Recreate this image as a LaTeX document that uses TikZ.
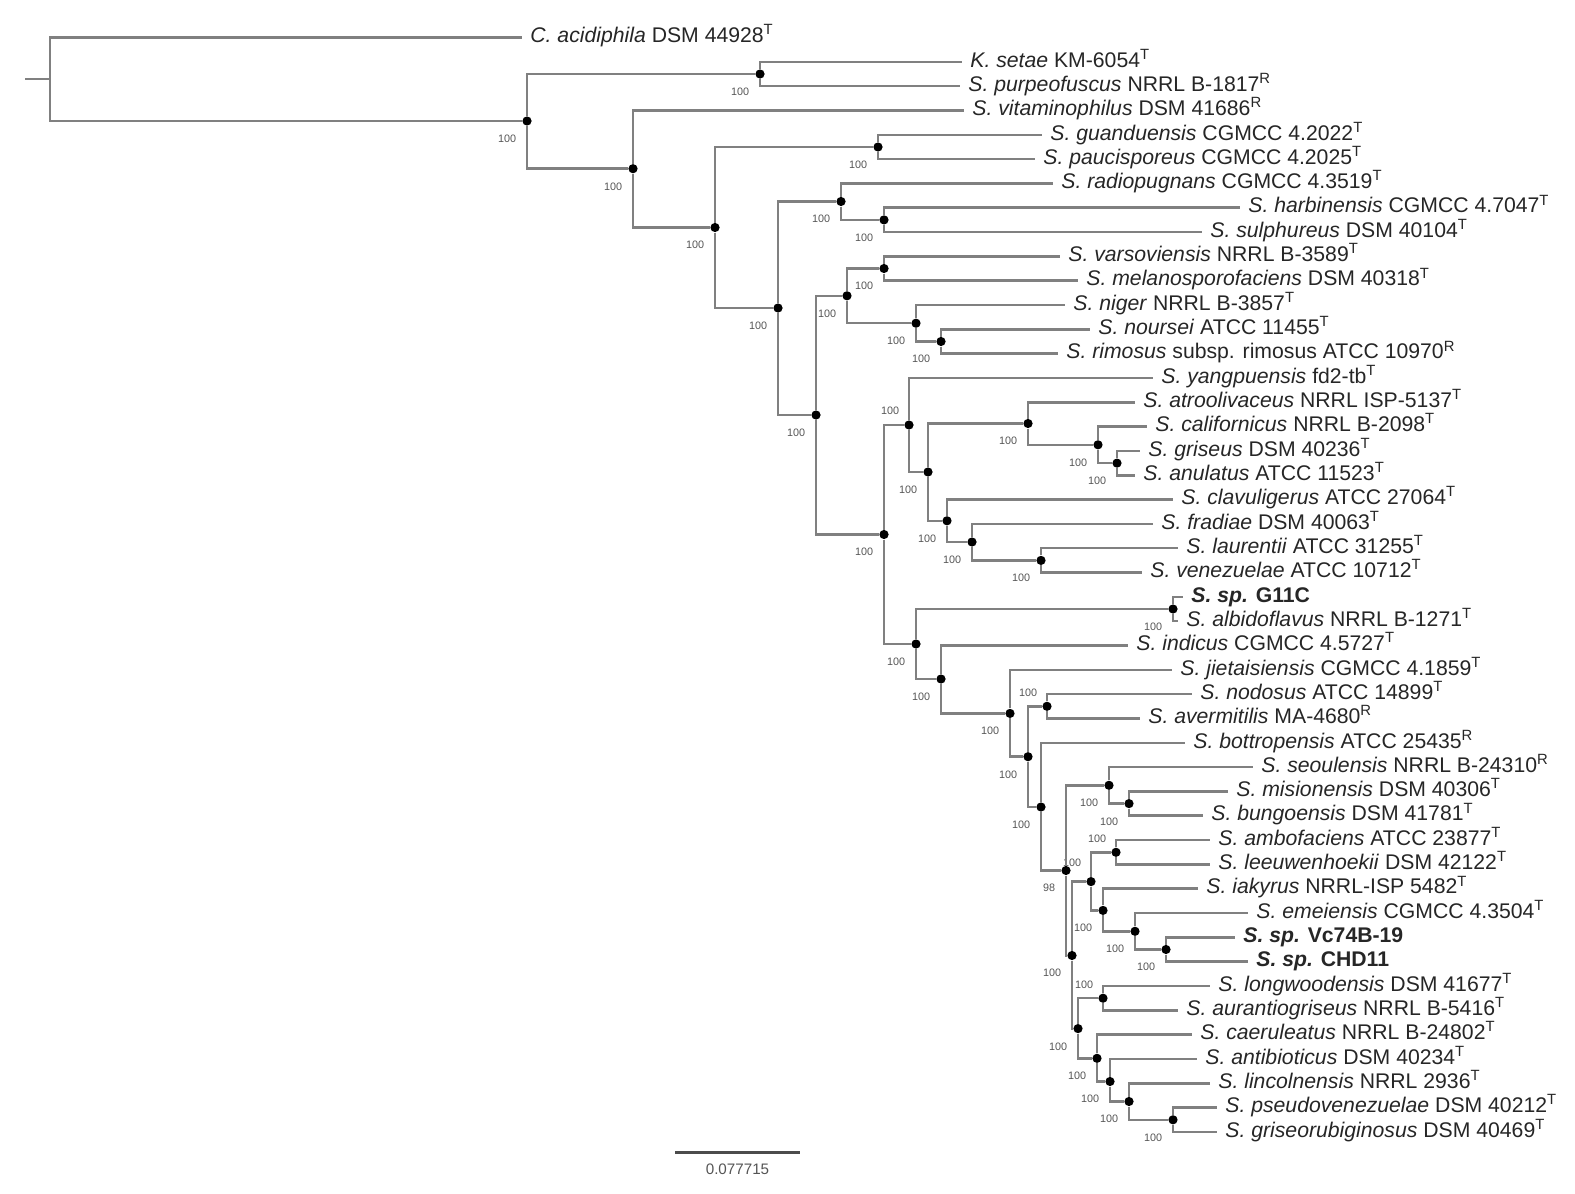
\documentclass[tikz,border=0pt]{standalone}
\usepackage{fontspec}
\setmainfont{Liberation Sans}
\definecolor{branch}{HTML}{808080}
\definecolor{leaftext}{HTML}{262626}
\definecolor{bootgray}{HTML}{555555}
\newcommand{\leaffont}{\fontsize{10.6}{12}\selectfont}
\newcommand{\bootfont}{\fontsize{5.4}{6}\selectfont}
\newcommand{\typeT}{\textsuperscript{T}}
\newcommand{\refR}{\textsuperscript{R}}
\tikzstyle{branchline} = [draw=branch, line width=1.25pt]
\tikzstyle{nodedot} = [circle, fill=black, inner sep=0pt, minimum size=4.6pt]
\tikzstyle{leaf} = [anchor=mid west, inner xsep=4pt, inner ysep=0pt,
text=leaftext, font=\leaffont]
\tikzstyle{boot} = [font=\bootfont, text=bootgray, inner sep=0.5pt,
xshift=-3pt, yshift=-4.5pt]
\tikzstyle{bootup} = [font=\bootfont, text=bootgray, inner sep=0.5pt,
xshift=-2.5pt, yshift=2.5pt]
\tikzstyle{scalebar} = [draw=black!70, line width=1.5pt]
\begin{document}
\begin{tikzpicture}[x=0.5pt, y=-0.5pt]
\useasboundingbox (0,0) rectangle (1575,1194);

% leaves
\node (c0) [leaf] at (522,37.5) {\textit{C. acidiphila} DSM 44928\typeT};
\node (k1) [leaf] at (962,61.8) {\textit{K. setae} KM-6054\typeT};
\node (s2) [leaf] at (960,86.1) {\textit{S. purpeofuscus} NRRL B-1817\refR};
\node (s3) [leaf] at (964,110.5) {\textit{S. vitaminophilus} DSM 41686\refR};
\node (s4) [leaf] at (1042,134.8) {\textit{S. guanduensis} CGMCC 4.2022\typeT};
\node (s5) [leaf] at (1035,159.1) {\textit{S. paucisporeus} CGMCC 4.2025\typeT};
\node (s6) [leaf] at (1053,183.4) {\textit{S. radiopugnans} CGMCC 4.3519\typeT};
\node (s7) [leaf] at (1240,207.7) {\textit{S. harbinensis} CGMCC 4.7047\typeT};
\node (s8) [leaf] at (1202,232.1) {\textit{S. sulphureus} DSM 40104\typeT};
\node (s9) [leaf] at (1060,256.4) {\textit{S. varsoviensis} NRRL B-3589\typeT};
\node (s10) [leaf] at (1078,280.7) {\textit{S. melanosporofaciens} DSM 40318\typeT};
\node (s11) [leaf] at (1065,305.0) {\textit{S. niger} NRRL B-3857\typeT};
\node (s12) [leaf] at (1090,329.3) {\textit{S. noursei} ATCC 11455\typeT};
\node (s13) [leaf] at (1058,353.7) {\textit{S. rimosus} subsp. rimosus ATCC 10970\refR};
\node (s14) [leaf] at (1153,378.0) {\textit{S. yangpuensis} fd2-tb\typeT};
\node (s15) [leaf] at (1135,402.3) {\textit{S. atroolivaceus} NRRL ISP-5137\typeT};
\node (s16) [leaf] at (1147,426.6) {\textit{S. californicus} NRRL B-2098\typeT};
\node (s17) [leaf] at (1140,450.9) {\textit{S. griseus} DSM 40236\typeT};
\node (s18) [leaf] at (1135,475.3) {\textit{S. anulatus} ATCC 11523\typeT};
\node (s19) [leaf] at (1173,499.6) {\textit{S. clavuligerus} ATCC 27064\typeT};
\node (s20) [leaf] at (1153,523.9) {\textit{S. fradiae} DSM 40063\typeT};
\node (s21) [leaf] at (1178,548.2) {\textit{S. laurentii} ATCC 31255\typeT};
\node (s22) [leaf] at (1142,572.5) {\textit{S. venezuelae} ATCC 10712\typeT};
\node (s23) [leaf] at (1183,596.9) {\textbf{\textit{S. sp.} G11C}};
\node (s24) [leaf] at (1178,621.2) {\textit{S. albidoflavus} NRRL B-1271\typeT};
\node (s25) [leaf] at (1128,645.5) {\textit{S. indicus} CGMCC 4.5727\typeT};
\node (s26) [leaf] at (1172,669.8) {\textit{S. jietaisiensis} CGMCC 4.1859\typeT};
\node (s27) [leaf] at (1192,694.1) {\textit{S. nodosus} ATCC 14899\typeT};
\node (s28) [leaf] at (1140,718.5) {\textit{S. avermitilis} MA-4680\refR};
\node (s29) [leaf] at (1185,742.8) {\textit{S. bottropensis} ATCC 25435\refR};
\node (s30) [leaf] at (1253,767.1) {\textit{S. seoulensis} NRRL B-24310\refR};
\node (s31) [leaf] at (1228,791.4) {\textit{S. misionensis} DSM 40306\typeT};
\node (s32) [leaf] at (1203,815.7) {\textit{S. bungoensis} DSM 41781\typeT};
\node (s33) [leaf] at (1210,840.1) {\textit{S. ambofaciens} ATCC 23877\typeT};
\node (s34) [leaf] at (1210,864.4) {\textit{S. leeuwenhoekii} DSM 42122\typeT};
\node (s35) [leaf] at (1198,888.7) {\textit{S. iakyrus} NRRL-ISP 5482\typeT};
\node (s36) [leaf] at (1248,913.0) {\textit{S. emeiensis} CGMCC 4.3504\typeT};
\node (s37) [leaf] at (1235,937.3) {\textbf{\textit{S. sp.} Vc74B-19}};
\node (s38) [leaf] at (1248,961.7) {\textbf{\textit{S. sp.} CHD11}};
\node (s39) [leaf] at (1210,986.0) {\textit{S. longwoodensis} DSM 41677\typeT};
\node (s40) [leaf] at (1178,1010.3) {\textit{S. aurantiogriseus} NRRL B-5416\typeT};
\node (s41) [leaf] at (1192,1034.6) {\textit{S. caeruleatus} NRRL B-24802\typeT};
\node (s42) [leaf] at (1197,1058.9) {\textit{S. antibioticus} DSM 40234\typeT};
\node (s43) [leaf] at (1210,1083.3) {\textit{S. lincolnensis} NRRL 2936\typeT};
\node (s44) [leaf] at (1217,1107.6) {\textit{S. pseudovenezuelae} DSM 40212\typeT};
\node (s45) [leaf] at (1217,1131.9) {\textit{S. griseorubiginosus} DSM 40469\typeT};

% inner nodes
\coordinate (stub) at (25,79);
\coordinate (root) at (50,79);
\node (n1) [nodedot, label={[boot]below left:100}] at (527,121) {};
\node (n2) [nodedot, label={[boot]below left:100}] at (760,74) {};
\node (n3) [nodedot, label={[boot]below left:100}] at (633,168.7) {};
\node (n4) [nodedot, label={[boot]below left:100}] at (715,227.5) {};
\node (n5) [nodedot, label={[boot]below left:100}] at (878,147) {};
\node (n6) [nodedot, label={[boot]below left:100}] at (778,308) {};
\node (n7) [nodedot, label={[boot]below left:100}] at (841,201.5) {};
\node (n9) [nodedot, label={[boot]below left:100}] at (884,219.9) {};
\node (n8) [nodedot, label={[boot]below left:100}] at (816,415) {};
\node (n10) [nodedot, label={[boot]below left:100}] at (847,295.8) {};
\node (n12) [nodedot, label={[boot]below left:100}] at (884,268.5) {};
\node (n13) [nodedot, label={[boot]below left:100}] at (916,323.2) {};
\node (n14) [nodedot, label={[boot]below left:100}] at (941,341.5) {};
\node (n11) [nodedot, label={[boot]below left:100}] at (884,534.5) {};
\node (n15) [nodedot, label={[bootup]above left:100}] at (909,425) {};
\node (n17) [nodedot, label={[boot]below left:100}] at (928,472) {};
\node (n18) [nodedot, label={[boot]below left:100}] at (1028,423.5) {};
\node (n20) [nodedot, label={[boot]below left:100}] at (1098,444.8) {};
\node (n21) [nodedot, label={[boot]below left:100}] at (1117,463.1) {};
\node (n19) [nodedot, label={[boot]below left:100}] at (947,520.8) {};
\node (n22) [nodedot, label={[boot]below left:100}] at (972,542) {};
\node (n23) [nodedot, label={[boot]below left:100}] at (1041,560.4) {};
\node (n16) [nodedot, label={[boot]below left:100}] at (916,644) {};
\node (n24) [nodedot, label={[boot]below left:100}] at (1173,609) {};
\node (n25) [nodedot, label={[boot]below left:100}] at (941,679) {};
\node (n26) [nodedot, label={[boot]below left:100}] at (1010,713.4) {};
\node (n27) [nodedot, label={[boot]below left:100}] at (1028,756.7) {};
\node (n28) [nodedot, label={[bootup]above left:100}] at (1047,706.3) {};
\node (n29) [nodedot, label={[boot]below left:100}] at (1041,807) {};
\node (n32) [nodedot, label={[boot]below left:98}] at (1066,870.5) {};
\node (n30) [nodedot, label={[boot]below left:100}] at (1109,785.3) {};
\node (n31) [nodedot, label={[boot]below left:100}] at (1129,803.6) {};
\node (n38) [nodedot, label={[boot]below left:100}] at (1072,955.5) {};
\node (n34) [nodedot, label={[bootup, yshift=2.5pt]above left:100}] at (1091,881.6) {};
\node (n33) [nodedot, label={[bootup]above left:100}] at (1116,852.3) {};
\node (n35) [nodedot, label={[boot]below left:100}] at (1103,910.4) {};
\node (n36) [nodedot, label={[boot]below left:100}] at (1135,931.3) {};
\node (n37) [nodedot, label={[boot]below left:100}] at (1166,949.5) {};
\node (n40) [nodedot, label={[boot]below left:100}] at (1078,1028.6) {};
\node (n39) [nodedot, label={[bootup]above left:100}] at (1103,998.2) {};
\node (n41) [nodedot, label={[boot]below left:100}] at (1097,1058.3) {};
\node (n42) [nodedot, label={[boot]below left:100}] at (1110,1081.5) {};
\node (n43) [nodedot, label={[boot]below left:100}] at (1129,1101.5) {};
\node (n44) [nodedot, label={[boot]below left:100}] at (1173,1119.8) {};

% branches
\draw [branchline] (stub) -- (root);
\draw [branchline] (root) |- (c0.mid west);
\draw [branchline] (root) |- (n1);
\draw [branchline] (n1) |- (n2);
\draw [branchline] (n1) |- (n3);
\draw [branchline] (n2) |- (k1.mid west);
\draw [branchline] (n2) |- (s2.mid west);
\draw [branchline] (n3) |- (s3.mid west);
\draw [branchline] (n3) |- (n4);
\draw [branchline] (n4) |- (n5);
\draw [branchline] (n4) |- (n6);
\draw [branchline] (n5) |- (s4.mid west);
\draw [branchline] (n5) |- (s5.mid west);
\draw [branchline] (n6) |- (n7);
\draw [branchline] (n6) |- (n8);
\draw [branchline] (n7) |- (s6.mid west);
\draw [branchline] (n7) |- (n9);
\draw [branchline] (n9) |- (s7.mid west);
\draw [branchline] (n9) |- (s8.mid west);
\draw [branchline] (n8) |- (n10);
\draw [branchline] (n8) |- (n11);
\draw [branchline] (n10) |- (n12);
\draw [branchline] (n10) |- (n13);
\draw [branchline] (n12) |- (s9.mid west);
\draw [branchline] (n12) |- (s10.mid west);
\draw [branchline] (n13) |- (s11.mid west);
\draw [branchline] (n13) |- (n14);
\draw [branchline] (n14) |- (s12.mid west);
\draw [branchline] (n14) |- (s13.mid west);
\draw [branchline] (n11) |- (n15);
\draw [branchline] (n11) |- (n16);
\draw [branchline] (n15) |- (s14.mid west);
\draw [branchline] (n15) |- (n17);
\draw [branchline] (n17) |- (n18);
\draw [branchline] (n17) |- (n19);
\draw [branchline] (n18) |- (s15.mid west);
\draw [branchline] (n18) |- (n20);
\draw [branchline] (n20) |- (s16.mid west);
\draw [branchline] (n20) |- (n21);
\draw [branchline] (n21) |- (s17.mid west);
\draw [branchline] (n21) |- (s18.mid west);
\draw [branchline] (n19) |- (s19.mid west);
\draw [branchline] (n19) |- (n22);
\draw [branchline] (n22) |- (s20.mid west);
\draw [branchline] (n22) |- (n23);
\draw [branchline] (n23) |- (s21.mid west);
\draw [branchline] (n23) |- (s22.mid west);
\draw [branchline] (n16) |- (n24);
\draw [branchline] (n16) |- (n25);
\draw [branchline] (n24) |- (s23.mid west);
\draw [branchline] (n24) |- (s24.mid west);
\draw [branchline] (n25) |- (s25.mid west);
\draw [branchline] (n25) |- (n26);
\draw [branchline] (n26) |- (s26.mid west);
\draw [branchline] (n26) |- (n27);
\draw [branchline] (n27) |- (n28);
\draw [branchline] (n27) |- (n29);
\draw [branchline] (n28) |- (s27.mid west);
\draw [branchline] (n28) |- (s28.mid west);
\draw [branchline] (n29) |- (s29.mid west);
\draw [branchline] (n29) |- (n32);
\draw [branchline] (n32) |- (n30);
\draw [branchline] (n32) |- (n38);
\draw [branchline] (n30) |- (s30.mid west);
\draw [branchline] (n30) |- (n31);
\draw [branchline] (n31) |- (s31.mid west);
\draw [branchline] (n31) |- (s32.mid west);
\draw [branchline] (n38) |- (n34);
\draw [branchline] (n38) |- (n40);
\draw [branchline] (n34) |- (n33);
\draw [branchline] (n34) |- (n35);
\draw [branchline] (n33) |- (s33.mid west);
\draw [branchline] (n33) |- (s34.mid west);
\draw [branchline] (n35) |- (s35.mid west);
\draw [branchline] (n35) |- (n36);
\draw [branchline] (n36) |- (s36.mid west);
\draw [branchline] (n36) |- (n37);
\draw [branchline] (n37) |- (s37.mid west);
\draw [branchline] (n37) |- (s38.mid west);
\draw [branchline] (n40) |- (n39);
\draw [branchline] (n40) |- (n41);
\draw [branchline] (n39) |- (s39.mid west);
\draw [branchline] (n39) |- (s40.mid west);
\draw [branchline] (n41) |- (s41.mid west);
\draw [branchline] (n41) |- (n42);
\draw [branchline] (n42) |- (s42.mid west);
\draw [branchline] (n42) |- (n43);
\draw [branchline] (n43) |- (s43.mid west);
\draw [branchline] (n43) |- (n44);
\draw [branchline] (n44) |- (s44.mid west);
\draw [branchline] (n44) |- (s45.mid west);

% scale bar
\coordinate (sbl) at (675,1152);
\coordinate (sbr) at (800,1152);
\draw [scalebar] (sbl) -- (sbr) node [midway, below=2pt, text=bootgray,
font=\fontsize{7.6}{9}\selectfont] {0.077715};

\end{tikzpicture}
\end{document}
